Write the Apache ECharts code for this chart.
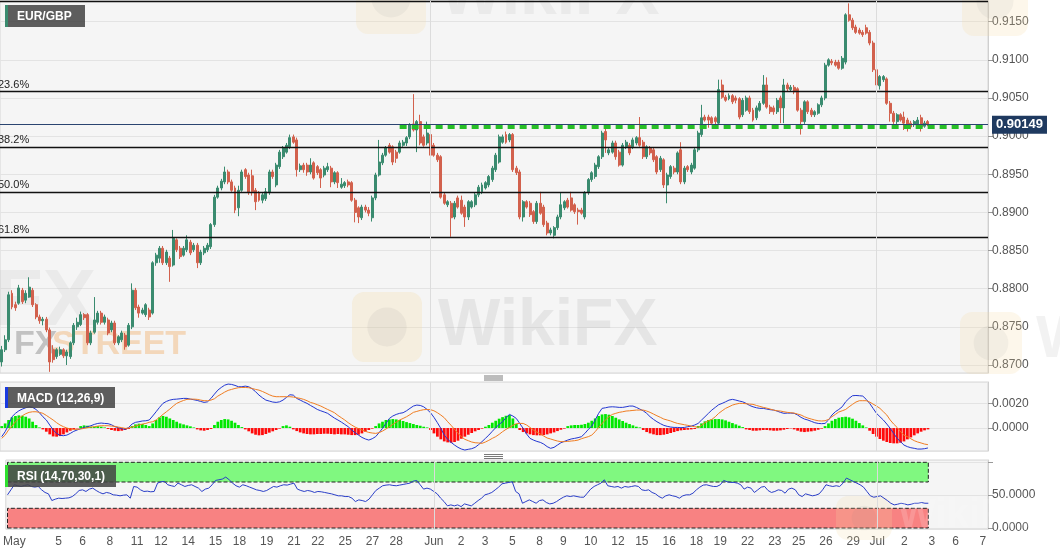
<!DOCTYPE html>
<html><head><meta charset="utf-8">
<script src="https://cdn.jsdelivr.net/npm/echarts@6/dist/echarts.min.js"></script>
<style>html,body{margin:0;padding:0;background:#fff;}#c{width:1060px;height:555px;}</style>
</head><body><div id="c"></div>
<script>
// ---------- DATA ----------
// 4-hour candles [open, close, low, high]
const candlesMay = [
[0.8704,0.8720,0.8698,0.8725],[0.8720,0.8733,0.8717,0.8739],[0.8733,0.8792,0.8730,0.8796],[0.8794,0.8776,0.8773,0.8798],[0.8779,0.8775,0.8771,0.8783],
[0.8781,0.8801,0.8779,0.8805],[0.8798,0.8783,0.8780,0.8801],[0.8785,0.8794,0.8781,0.8798],[0.8789,0.8802,0.8788,0.8815],[0.8798,0.8779,0.8776,0.8801],
[0.8779,0.8763,0.8760,0.8781],[0.8763,0.8758,0.8754,0.8766],[0.8758,0.8760,0.8752,0.8763],[0.8760,0.8746,0.8743,0.8763],[0.8746,0.8704,0.8691,0.8749],
[0.8720,0.8707,0.8703,0.8726],[0.8711,0.8720,0.8708,0.8722],[0.8714,0.8720,0.8712,0.8724],[0.8720,0.8712,0.8709,0.8722],[0.8712,0.8717,0.8700,0.8720],
[0.8711,0.8729,0.8708,0.8731],[0.8729,0.8752,0.8726,0.8755],[0.8750,0.8756,0.8746,0.8762],[0.8753,0.8766,0.8751,0.8770],[0.8766,0.8762,0.8759,0.8768],
[0.8766,0.8729,0.8726,0.8768],[0.8729,0.8742,0.8726,0.8745],[0.8743,0.8759,0.8741,0.8789],[0.8756,0.8768,0.8753,0.8771],[0.8768,0.8756,0.8753,0.8771],
[0.8756,0.8763,0.8753,0.8766],[0.8759,0.8742,0.8739,0.8762],[0.8746,0.8755,0.8743,0.8758],[0.8755,0.8729,0.8726,0.8758],[0.8729,0.8737,0.8726,0.8739],
[0.8733,0.8742,0.8730,0.8745],[0.8739,0.8724,0.8720,0.8742],[0.8726,0.8752,0.8724,0.8755],[0.8750,0.8798,0.8747,0.8807],[0.8798,0.8775,0.8772,0.8801],
[0.8776,0.8768,0.8762,0.8779],[0.8768,0.8772,0.8766,0.8775],[0.8766,0.8779,0.8763,0.8781],[0.8772,0.8763,0.8759,0.8775],[0.8768,0.8834,0.8766,0.8836],
[0.8834,0.8844,0.8830,0.8847],[0.8840,0.8853,0.8834,0.8856],[0.8853,0.8834,0.8831,0.8856],[0.8834,0.8848,0.8831,0.8851],[0.8840,0.8829,0.8809,0.8843],
[0.8831,0.8866,0.8829,0.8877],[0.8864,0.8851,0.8848,0.8866],[0.8853,0.8842,0.8839,0.8856],[0.8844,0.8853,0.8842,0.8856],[0.8851,0.8864,0.8848,0.8870],
[0.8861,0.8847,0.8844,0.8864],[0.8851,0.8857,0.8848,0.8860],[0.8857,0.8834,0.8827,0.8860],[0.8834,0.8848,0.8831,0.8851],[0.8847,0.8853,0.8844,0.8856],
[0.8851,0.8857,0.8848,0.8860],[0.8855,0.8884,0.8852,0.8886],[0.8884,0.8920,0.8881,0.8923],[0.8920,0.8932,0.8918,0.8935],[0.8932,0.8941,0.8929,0.8944],
[0.8940,0.8953,0.8937,0.8960],[0.8953,0.8940,0.8937,0.8956],[0.8940,0.8929,0.8927,0.8943],[0.8932,0.8903,0.8899,0.8935],[0.8906,0.8929,0.8895,0.8935],
[0.8929,0.8953,0.8927,0.8956],[0.8956,0.8947,0.8944,0.8958],[0.8949,0.8926,0.8923,0.8952],[0.8948,0.8927,0.8922,0.8956],[0.8929,0.8914,0.8903,0.8932],
[0.8926,0.8916,0.8914,0.8928],[0.8916,0.8923,0.8912,0.8926],[0.8918,0.8927,0.8915,0.8932],[0.8926,0.8953,0.8923,0.8956],[0.8953,0.8947,0.8944,0.8956],
[0.8936,0.8962,0.8933,0.8965],[0.8960,0.8979,0.8957,0.8982],[0.8973,0.8985,0.8970,0.8987],[0.8979,0.8988,0.8977,0.8991],[0.8986,0.8998,0.8983,0.9002],
[0.8999,0.8992,0.8990,0.9002],[0.8995,0.8956,0.8947,0.8998],[0.8956,0.8961,0.8953,0.8964],[0.8962,0.8956,0.8952,0.8965],[0.8962,0.8953,0.8948,0.8965],
[0.8953,0.8962,0.8950,0.8971],[0.8965,0.8945,0.8943,0.8967],[0.8960,0.8952,0.8949,0.8962],[0.8956,0.8945,0.8932,0.8958],[0.8949,0.8958,0.8946,0.8961],
[0.8956,0.8960,0.8953,0.8965],[0.8958,0.8940,0.8933,0.8961],[0.8940,0.8952,0.8937,0.8954],[0.8952,0.8939,0.8932,0.8954],[0.8933,0.8937,0.8931,0.8945],
[0.8935,0.8939,0.8932,0.8941],[0.8940,0.8936,0.8933,0.8943],[0.8939,0.8916,0.8914,0.8941],[0.8916,0.8900,0.8887,0.8919],[0.8906,0.8894,0.8886,0.8908],
[0.8893,0.8907,0.8890,0.8910],[0.8907,0.8903,0.8900,0.8910],[0.8903,0.8899,0.8895,0.8907],[0.8893,0.8919,0.8888,0.8922],[0.8919,0.8949,0.8916,0.8952],
[0.8949,0.8966,0.8947,0.8995],[0.8965,0.8975,0.8962,0.8978],[0.8975,0.8985,0.8973,0.8987],[0.8988,0.8979,0.8977,0.8991],[0.8986,0.8966,0.8962,0.8988],
[0.8979,0.8971,0.8965,0.8982],[0.8979,0.8991,0.8977,0.8994],[0.8988,0.8992,0.8986,0.8995],[0.8991,0.8998,0.8987,0.9000],[0.8999,0.9015,0.8996,0.9017],
[0.9016,0.9008,0.9006,0.9055],[0.9008,0.9019,0.8979,0.9021],[0.9019,0.8991,0.8988,0.9028],[0.8999,0.8988,0.8986,0.9002],[0.8991,0.9004,0.8988,0.9019]
];
const candlesJune = [
[0.9002,0.8975,0.8971,0.9004],[0.8988,0.8975,0.8973,0.8991],[0.8975,0.8969,0.8966,0.8978],[0.8973,0.8920,0.8918,0.8975],[0.8923,0.8912,0.8910,0.8926],
[0.8910,0.8914,0.8907,0.8916],[0.8912,0.8893,0.8868,0.8915],[0.8894,0.8912,0.8891,0.8915],[0.8919,0.8907,0.8905,0.8922],[0.8916,0.8899,0.8897,0.8922],
[0.8907,0.8894,0.8881,0.8910],[0.8894,0.8914,0.8890,0.8916],[0.8907,0.8914,0.8905,0.8916],[0.8910,0.8923,0.8907,0.8926],[0.8923,0.8933,0.8920,0.8936],
[0.8927,0.8936,0.8924,0.8939],[0.8932,0.8939,0.8930,0.8941],[0.8936,0.8947,0.8933,0.8949],[0.8943,0.8958,0.8940,0.8961],[0.8956,0.8975,0.8953,0.8978],
[0.8966,0.8999,0.8964,0.9002],[0.8992,0.8999,0.8990,0.9002],[0.9002,0.8992,0.8990,0.9006],[0.8995,0.9002,0.8992,0.9004],[0.9002,0.8956,0.8953,0.9004],
[0.8958,0.8952,0.8949,0.8961],[0.8953,0.8894,0.8891,0.8956],[0.8894,0.8914,0.8888,0.8916],[0.8914,0.8907,0.8905,0.8916],[0.8912,0.8897,0.8894,0.8915],
[0.8901,0.8888,0.8885,0.8903],[0.8888,0.8912,0.8885,0.8915],[0.8912,0.8899,0.8897,0.8927],[0.8907,0.8884,0.8881,0.8910],[0.8886,0.8873,0.8870,0.8889],
[0.8873,0.8877,0.8870,0.8880],[0.8870,0.8880,0.8866,0.8882],[0.8880,0.8894,0.8877,0.8897],[0.8894,0.8910,0.8891,0.8926],[0.8906,0.8914,0.8903,0.8916],
[0.8916,0.8907,0.8905,0.8919],[0.8919,0.8903,0.8901,0.8927],[0.8910,0.8901,0.8898,0.8912],[0.8903,0.8901,0.8884,0.8906],[0.8903,0.8899,0.8897,0.8906],
[0.8894,0.8926,0.8891,0.8928],[0.8926,0.8943,0.8923,0.8945],[0.8943,0.8952,0.8940,0.8954],[0.8947,0.8962,0.8944,0.8965],[0.8960,0.8973,0.8957,0.8975],
[0.8973,0.9004,0.8970,0.9007],[0.9006,0.8995,0.8978,0.9015],[0.8978,0.8982,0.8975,0.8985],[0.8979,0.8991,0.8977,0.8994],[0.8991,0.8973,0.8969,0.8994],
[0.8979,0.8962,0.8960,0.8982],[0.8962,0.8988,0.8960,0.8991],[0.8986,0.8992,0.8983,0.8995],[0.8988,0.8978,0.8975,0.8991],[0.8986,0.8995,0.8983,0.8998],
[0.8991,0.8998,0.8988,0.9000],[0.8998,0.8988,0.8986,0.9025],[0.8992,0.8973,0.8970,0.8995],[0.8973,0.8986,0.8970,0.8988],[0.8985,0.8978,0.8975,0.8987],
[0.8982,0.8969,0.8966,0.8985],[0.8973,0.8953,0.8950,0.8975],[0.8956,0.8971,0.8953,0.8974],[0.8969,0.8936,0.8932,0.8971],[0.8936,0.8949,0.8912,0.8952],
[0.8947,0.8960,0.8944,0.8962],[0.8958,0.8953,0.8950,0.8961],[0.8953,0.8978,0.8950,0.8980],[0.8982,0.8940,0.8937,0.8992],[0.8940,0.8958,0.8937,0.8961],
[0.8960,0.8956,0.8953,0.8962],[0.8953,0.8962,0.8950,0.8965],[0.8958,0.8982,0.8956,0.8985],[0.8982,0.9004,0.8979,0.9007],[0.9002,0.9024,0.8999,0.9041],
[0.9025,0.9021,0.9019,0.9028],[0.9025,0.9021,0.9011,0.9028],[0.9024,0.9017,0.9015,0.9026],[0.9024,0.9019,0.9011,0.9026],[0.9017,0.9061,0.9015,0.9074],
[0.9067,0.9051,0.9049,0.9074],[0.9051,0.9047,0.9045,0.9054],[0.9049,0.9053,0.9047,0.9056],[0.9053,0.9045,0.9042,0.9055],[0.9050,0.9047,0.9043,0.9053],
[0.9049,0.9025,0.9022,0.9051],[0.9028,0.9047,0.9025,0.9050],[0.9034,0.9050,0.9032,0.9053],[0.9050,0.9032,0.9029,0.9053],[0.9034,0.9021,0.9019,0.9037],
[0.9024,0.9037,0.9021,0.9040],[0.9034,0.9043,0.9032,0.9046],[0.9043,0.9067,0.9041,0.9080],[0.9067,0.9038,0.9036,0.9077],[0.9038,0.9032,0.9029,0.9041],
[0.9037,0.9032,0.9028,0.9040],[0.9032,0.9047,0.9029,0.9050],[0.9050,0.9037,0.9017,0.9053],[0.9037,0.9067,0.9017,0.9075],[0.9067,0.9062,0.9059,0.9070],
[0.9061,0.9064,0.9058,0.9067],[0.9064,0.9058,0.9055,0.9067],[0.9062,0.9034,0.9032,0.9064],[0.9034,0.9019,0.9002,0.9037],[0.9019,0.9045,0.9016,0.9047],
[0.9045,0.9032,0.9029,0.9047],[0.9034,0.9028,0.9025,0.9037],[0.9028,0.9032,0.9025,0.9034],[0.9030,0.9041,0.9028,0.9043],[0.9041,0.9050,0.9038,0.9053],
[0.9050,0.9093,0.9047,0.9096],[0.9093,0.9100,0.9091,0.9102],[0.9098,0.9096,0.9093,0.9101],[0.9097,0.9093,0.9091,0.9100],[0.9097,0.9089,0.9087,0.9100],
[0.9089,0.9102,0.9087,0.9105],[0.9097,0.9159,0.9094,0.9161],[0.9159,0.9152,0.9150,0.9174],[0.9152,0.9142,0.9139,0.9155],[0.9143,0.9136,0.9134,0.9146],
[0.9139,0.9135,0.9133,0.9142],[0.9136,0.9133,0.9130,0.9139],[0.9142,0.9135,0.9133,0.9146],[0.9136,0.9122,0.9119,0.9139],[0.9122,0.9087,0.9084,0.9125],
[0.9087,0.9067,0.9061,0.9089]
];
const candlesJuly = [
[0.9066,0.9078,0.9061,0.9080],[0.9074,0.9078,0.9071,0.9080],[0.9075,0.9043,0.9041,0.9077],[0.9043,0.9030,0.9019,0.9046],[0.9030,0.9019,0.9016,0.9033],
[0.9019,0.9028,0.9016,0.9030],[0.9028,0.9021,0.9019,0.9030],[0.9025,0.9017,0.9008,0.9032],[0.9021,0.9012,0.9006,0.9024],[0.9017,0.9012,0.9009,0.9020],
[0.9015,0.9019,0.9012,0.9021],[0.9016,0.9021,0.9013,0.9025],[0.9024,0.9012,0.9006,0.9028],[0.9013,0.9017,0.9011,0.9020],[0.9019,0.90149,0.9013,0.9021]
];
// MACD (12,26,9)
const macdLine = [
-0.00071,-0.00030,0.00025,0.00093,0.00121,0.00142,0.00156,0.00167,0.00175,0.00170,
0.00153,0.00126,0.00093,0.00066,0.00025,-0.00016,-0.00044,-0.00060,-0.00063,-0.00058,
-0.00044,-0.00027,-0.00016,-0.00005,0.00005,0.00011,0.00019,0.00030,0.00038,0.00041,
0.00038,0.00036,0.00027,0.00011,0.00003,-0.00005,-0.00011,0.00005,0.00033,0.00047,
0.00052,0.00058,0.00060,0.00066,0.00099,0.00134,0.00170,0.00203,0.00219,0.00230,
0.00236,0.00238,0.00241,0.00244,0.00244,0.00238,0.00233,0.00227,0.00219,0.00211,
0.00216,0.00244,0.00279,0.00312,0.00334,0.00353,0.00362,0.00359,0.00351,0.00340,
0.00340,0.00345,0.00340,0.00323,0.00299,0.00271,0.00249,0.00230,0.00222,0.00214,
0.00211,0.00216,0.00230,0.00252,0.00274,0.00271,0.00244,0.00230,0.00216,0.00203,
0.00186,0.00170,0.00153,0.00142,0.00132,0.00121,0.00101,0.00082,0.00066,0.00049,
0.00030,0.00011,-0.00016,-0.00038,-0.00058,-0.00077,-0.00090,-0.00099,-0.00088,-0.00071,
-0.00038,-0.00003,0.00038,0.00079,0.00099,0.00112,0.00121,0.00126,0.00142,0.00162,
0.00181,0.00189,0.00186,0.00175,0.00153,0.00126,0.00088,0.00044,-0.00003,-0.00058,
-0.00093,-0.00118,-0.00140,-0.00159,-0.00173,-0.00181,-0.00175,-0.00170,-0.00159,-0.00137,
-0.00112,-0.00085,-0.00058,-0.00027,0.00003,0.00030,0.00052,0.00085,0.00112,0.00099,
0.00079,0.00038,-0.00003,-0.00049,-0.00085,-0.00099,-0.00110,-0.00118,-0.00132,-0.00153,
-0.00167,-0.00159,-0.00140,-0.00121,-0.00110,-0.00099,-0.00090,-0.00085,-0.00079,-0.00071,
-0.00044,-0.00011,0.00016,0.00066,0.00121,0.00162,0.00167,0.00173,0.00175,0.00173,
0.00170,0.00170,0.00175,0.00181,0.00181,0.00170,0.00156,0.00142,0.00121,0.00093,
0.00071,0.00052,0.00036,0.00022,0.00014,0.00008,0.00005,0.00005,0.00003,0.00005,
0.00011,0.00016,0.00025,0.00038,0.00066,0.00093,0.00121,0.00148,0.00170,0.00192,
0.00203,0.00216,0.00230,0.00236,0.00230,0.00222,0.00216,0.00203,0.00186,0.00175,
0.00167,0.00162,0.00162,0.00156,0.00151,0.00148,0.00140,0.00129,0.00121,0.00123,
0.00123,0.00121,0.00107,0.00088,0.00074,0.00066,0.00055,0.00044,0.00038,0.00036,
0.00038,0.00066,0.00107,0.00134,0.00153,0.00175,0.00216,0.00244,0.00266,0.00268,
0.00266,0.00263,0.00236,0.00203,0.00162,0.00121,0.00093,0.00066,0.00033,-0.00003,
-0.00044,-0.00085,-0.00112,-0.00140,-0.00153,-0.00162,-0.00167,-0.00173,-0.00173,-0.00170,-0.00164
];
const signalLine = [
-0.00085,-0.00058,-0.00016,0.00016,0.00052,0.00079,0.00101,0.00118,0.00129,0.00134,
0.00134,0.00129,0.00121,0.00104,0.00085,0.00066,0.00044,0.00025,0.00011,0,
-0.00008,-0.00011,-0.00011,-0.00008,-0.00003,0.00003,0.00008,0.00011,0.00016,0.00019,
0.00019,0.00019,0.00016,0.00014,0.00008,0.00003,-0.00003,0,0.00008,0.00016,
0.00025,0.00033,0.00038,0.00047,0.00052,0.00066,0.00088,0.00112,0.00134,0.00156,
0.00181,0.00203,0.00216,0.00227,0.00236,0.00238,0.00238,0.00236,0.00230,0.00225,
0.00225,0.00230,0.00241,0.00263,0.00279,0.00296,0.00310,0.00318,0.00326,0.00332,
0.00334,0.00334,0.00332,0.00326,0.00318,0.00312,0.00301,0.00288,0.00274,0.00263,
0.00258,0.00258,0.00258,0.00258,0.00258,0.00255,0.00249,0.00244,0.00236,0.00225,
0.00211,0.00203,0.00192,0.00181,0.00167,0.00153,0.00140,0.00126,0.00104,0.00085,
0.00066,0.00044,0.00025,0.00008,-0.00005,-0.00016,-0.00027,-0.00036,-0.00041,-0.00044,
-0.00038,-0.00025,-0.00008,0.00011,0.00030,0.00049,0.00066,0.00079,0.00093,0.00110,
0.00129,0.00137,0.00145,0.00151,0.00153,0.00151,0.00142,0.00126,0.00107,0.00085,
0.00052,0.00022,-0.00011,-0.00044,-0.00071,-0.00093,-0.00104,-0.00115,-0.00121,-0.00123,
-0.00126,-0.00115,-0.00101,-0.00085,-0.00071,-0.00052,-0.00030,-0.00011,0.00005,0.00022,
0.00036,0.00038,0.00038,0.00025,0.00005,-0.00016,-0.00033,-0.00049,-0.00066,-0.00082,
-0.00090,-0.00099,-0.00107,-0.00112,-0.00112,-0.00110,-0.00107,-0.00104,-0.00099,-0.00088,
-0.00079,-0.00071,-0.00058,-0.00030,0.00005,0.00038,0.00066,0.00093,0.00112,0.00121,
0.00129,0.00134,0.00140,0.00142,0.00145,0.00148,0.00148,0.00148,0.00140,0.00129,
0.00115,0.00101,0.00088,0.00074,0.00066,0.00058,0.00047,0.00038,0.00033,0.00027,
0.00022,0.00016,0.00011,0.00005,0.00022,0.00044,0.00060,0.00071,0.00093,0.00121,
0.00142,0.00162,0.00175,0.00189,0.00197,0.00203,0.00203,0.00200,0.00197,0.00195,
0.00186,0.00178,0.00170,0.00164,0.00156,0.00148,0.00142,0.00140,0.00134,0.00129,
0.00126,0.00123,0.00115,0.00107,0.00093,0.00082,0.00074,0.00066,0.00060,0.00058,
0.00060,0.00071,0.00093,0.00112,0.00132,0.00142,0.00153,0.00175,0.00195,0.00214,
0.00225,0.00225,0.00225,0.00214,0.00197,0.00181,0.00162,0.00134,0.00107,0.00066,
0.00033,0.00005,-0.00030,-0.00058,-0.00071,-0.00088,-0.00104,-0.00115,-0.00123,-0.00132,-0.00137
];
const macdHist = [
0.00016,0.00038,0.00066,0.00088,0.00099,0.00104,0.00101,0.00093,0.00079,0.00052,0.00025,0.00005,
-0.00011,-0.00030,-0.00052,-0.00069,-0.00071,-0.00066,-0.00052,-0.00036,-0.00022,-0.00011,-0.00003,
0.00016,0.00022,0.00019,0.00011,0.00011,0.00016,0.00011,0.00005,
-0.00008,-0.00016,-0.00022,-0.00025,-0.00022,-0.00016,-0.00008,
0.00016,0.00030,0.00036,0.00033,0.00025,0.00016,
0.00038,0.00066,0.00088,0.00099,0.00093,0.00079,0.00066,0.00052,0.00038,0.00030,0.00022,0.00014,0.00005,
-0.00011,-0.00019,-0.00022,-0.00016,-0.00008,
0.00025,0.00052,0.00066,0.00074,0.00071,0.00060,0.00044,0.00025,0.00008,
-0.00011,-0.00027,-0.00044,-0.00055,-0.00060,-0.00058,-0.00049,-0.00038,-0.00027,-0.00016,-0.00005,
0.00016,0.00022,0.00011,
-0.00011,-0.00025,-0.00036,-0.00044,-0.00049,-0.00052,-0.00052,-0.00049,-0.00049,-0.00047,-0.00047,-0.00049,-0.00052,-0.00049,-0.00052,
-0.00052,-0.00055,-0.00058,-0.00058,-0.00055,-0.00044,-0.00030,-0.00016,-0.00005,
0.00016,0.00038,0.00052,0.00066,0.00071,0.00074,0.00071,0.00066,0.00058,0.00049,0.00041,0.00033,0.00025,0.00019,0.00011,0.00005,
-0.00016,-0.00044,-0.00071,-0.00093,-0.00110,-0.00118,-0.00121,-0.00115,-0.00104,-0.00088,-0.00071,-0.00055,-0.00041,-0.00027,-0.00016,-0.00005,
0.00011,0.00025,0.00044,0.00060,0.00077,0.00090,0.00101,0.00107,0.00079,0.00033,
-0.00016,-0.00033,-0.00044,-0.00052,-0.00058,-0.00060,-0.00060,-0.00058,-0.00052,-0.00044,-0.00036,-0.00025,-0.00014,-0.00005,
0.00016,0.00022,0.00025,0.00025,0.00027,0.00033,0.00044,0.00060,0.00079,0.00099,0.00112,0.00115,0.00110,0.00099,0.00085,0.00071,0.00058,0.00044,0.00033,0.00022,0.00011,0.00005,
-0.00016,-0.00033,-0.00044,-0.00052,-0.00058,-0.00058,-0.00055,-0.00049,-0.00041,-0.00033,-0.00025,-0.00019,-0.00016,-0.00014,-0.00011,-0.00008,
0.00016,0.00038,0.00055,0.00066,0.00071,0.00074,0.00074,0.00071,0.00063,0.00052,0.00041,0.00030,0.00019,0.00008,
-0.00011,-0.00016,-0.00022,-0.00022,-0.00019,-0.00016,-0.00016,-0.00019,-0.00022,-0.00022,-0.00019,-0.00014,-0.00008,-0.00003,
-0.00011,-0.00022,-0.00030,-0.00033,-0.00030,-0.00027,-0.00022,-0.00014,-0.00005,
0.00016,0.00038,0.00060,0.00074,0.00085,0.00090,0.00093,0.00088,0.00077,0.00060,0.00041,0.00022,0.00005,
-0.00022,-0.00049,-0.00071,-0.00090,-0.00104,-0.00115,-0.00123,-0.00126,-0.00126,-0.00121,-0.00110,-0.00093,-0.00077,-0.00060,-0.00044,-0.00030,-0.00019,-0.00011
];
// RSI (14,70,30,1)
const rsiLine = [
50.5,58.1,65.8,64.3,63.2,64.8,65.8,63.2,62.2,63.2,58.1,54.1,52.0,
41.8,43.9,45.4,44.9,45.4,45.9,47.9,52.0,
57.1,58.1,55.6,59.2,60.7,57.1,54.1,52.0,54.1,53.0,50.5,50.0,49.0,50.0,50.5,45.4,
63.2,62.2,58.1,55.6,56.1,55.1,55.6,
68.3,70.4,70.9,65.8,64.3,63.2,68.3,65.8,63.2,64.8,65.8,63.2,60.7,55.6,
59.2,60.7,65.8,72.4,73.4,74.5,77.5,
73.4,68.3,64.3,62.2,65.8,64.3,62.2,60.2,58.1,57.1,
55.6,57.1,60.2,63.2,62.2,64.3,65.8,65.3,66.8,68.3,
59.2,57.1,55.6,57.1,56.1,54.1,55.6,55.1,54.1,53.0,52.0,50.5,49.0,49.0,47.9,47.9,45.4,
40.3,42.8,41.8,40.3,43.9,50.5,57.1,60.7,64.3,65.3,65.8,64.8,64.3,65.3,66.3,67.3,68.3,
71.4,72.4,65.8,59.2,60.7,59.2,55.6,52.0,45.4,40.3,
33.7,35.2,33.7,35.2,32.6,36.7,35.2,33.7,37.7,41.8,45.4,50.5,
52.0,54.1,58.1,62.2,67.3,68.3,69.4,70.4,55.6,52.0,
37.7,40.3,42.8,40.3,37.7,41.8,42.8,38.8,36.7,37.7,
40.3,43.9,46.9,49.0,47.9,49.0,47.9,46.9,46.9,53.0,
59.2,63.2,65.8,68.3,73.4,64.3,63.2,62.2,63.2,60.7,
63.2,62.2,63.2,64.3,63.2,58.1,57.1,58.1,54.1,52.0,
47.9,45.4,49.0,50.5,49.0,47.9,45.4,49.0,50.5,50.5,53.0,58.1,
62.2,65.3,65.8,64.3,63.2,63.2,65.8,72.4,70.4,69.4,
69.4,68.3,65.8,59.2,62.2,60.7,54.1,58.1,62.2,63.2,
57.1,54.1,55.6,58.1,57.1,53.0,59.2,60.7,58.1,50.5,
47.9,52.0,50.5,49.0,50.0,52.0,58.1,65.8,
64.3,63.2,64.3,63.2,68.3,76.0,
73.4,70.9,68.3,65.8,62.2,55.6,49.0,46.9,
47.9,49.0,45.4,41.8,37.7,35.2,36.2,37.7,36.7,35.2,36.2,37.7,37.7,38.8,37.7,37.7
];
// x-axis tick labels and the 4h-slot they sit on
const tickLabels = ['May','5','6','8','11','12','14','15','18','19','21','22','25','27','28','Jun','2','3','5','8','9','10','12','15','16','18','19','22','23','25','26','29','Jul','2','3','6','7'];
const tickSlots  = [2,15,22,30,38,45,53,61,68,76,84,91,99,107,114,125,133,140,148,156,163,171,179,186,194,202,209,217,225,232,240,248,255,263,271,278,286];
const monthStartSlots = [125, 255];
const slotCount = 288;
const fibLevels = [0.9177, 0.9059, 0.8986, 0.8927, 0.8868];
const fibLabels = ['0.0%', '23.6%', '38.2%', '50.0%', '61.8%'];
const lastPrice = 0.90149;
const supportLevel = 0.9012;
const supportStartSlot = 116;
const rsiUpper = [70, 100];
const rsiLower = [0, 30];

// ---------- CHART ----------
const candles = candlesMay.concat(candlesJune, candlesJuly);
const lastIdx = candles.length - 1;
const slots = Array.from({length: slotCount}, (_, i) => String(i));
const tickMap = {};
tickSlots.forEach((s, k) => { tickMap[s] = tickLabels[k]; });

const FONT = 'Liberation Sans, Arial, sans-serif';
const UP = '#3a8b6f', DOWN = '#d2614d';
const gridStyle = {show: true, backgroundColor: '#f5f5f5', borderColor: '#d6d6d6', borderWidth: 1, left: 0, width: 988};

function xAxisFor(gi, showLabels) {
  return {
    type: 'category', gridIndex: gi, data: slots, boundaryGap: true,
    axisLine: {show: false}, axisTick: {show: false}, splitLine: {show: false},
    axisLabel: showLabels ? {
      show: true, interval: (i) => tickMap[i] !== undefined,
      formatter: (v, i) => tickMap[i] || '', color: '#555', fontSize: 12, margin: 7, fontFamily: FONT
    } : {show: false}
  };
}
function yAxisFor(gi, min, max, split, fmt) {
  return {
    type: 'value', gridIndex: gi, position: 'right', min: min, max: max, splitNumber: split, scale: true,
    axisLine: {show: true, lineStyle: {color: '#cfcfcf'}},
    axisTick: {show: true, length: 5, lineStyle: {color: '#999'}},
    axisLabel: {color: '#555', fontSize: 12, margin: 4, fontFamily: FONT, showMinLabel: false, showMaxLabel: false, formatter: fmt},
    splitLine: {show: true, lineStyle: {color: '#e3e3e3'}}
  };
}
const monthLines = () => ({
  symbol: ['none', 'none'], silent: true, animation: false, label: {show: false},
  lineStyle: {color: '#dcdcdc', width: 1, type: 'solid'},
  data: monthStartSlots.map(s => ({xAxis: s}))
});

const chart = echarts.init(document.getElementById('c'), null, {renderer: 'canvas'});
chart.setOption({
  animation: false,
  textStyle: {fontFamily: FONT},
  grid: [
    Object.assign({top: 1, height: 372}, gridStyle),
    Object.assign({top: 382, height: 69}, gridStyle),
    Object.assign({top: 460, height: 69}, gridStyle)
  ],
  xAxis: [xAxisFor(0, false), xAxisFor(1, false), xAxisFor(2, true)],
  yAxis: [
    yAxisFor(0, 0.86895, 0.91771, 10, v => v.toFixed(4)),
    yAxisFor(1, -0.00189, 0.00379, 3, v => v.toFixed(4)),
    yAxisFor(2, -1.5, 103.5, 2, v => (v > 99 ? '' : v.toFixed(4)))
  ],
  series: [
    {
      type: 'candlestick', xAxisIndex: 0, yAxisIndex: 0, data: candles, barWidth: '72%',
      itemStyle: {color: UP, color0: DOWN, borderColor: UP, borderColor0: DOWN, borderWidth: 1},
      markLine: {
        symbol: ['none', 'none'], silent: true, animation: false, precision: 5,
        data: [
          ...fibLevels.map(v => ({yAxis: v, label: {show: false}, lineStyle: {color: '#111', width: 1.3, type: 'solid'}})),
          ...monthStartSlots.map(s => ({xAxis: s, label: {show: false}, lineStyle: {color: '#dcdcdc', width: 1, type: 'solid'}})),
          [
            {xAxis: supportStartSlot, yAxis: supportLevel, label: {show: false}, lineStyle: {color: '#27bf27', width: 4, type: [7, 5]}},
            {xAxis: slotCount - 1, yAxis: supportLevel}
          ],
          {yAxis: lastPrice, lineStyle: {color: '#2a4470', width: 1, type: 'solid'},
           label: {show: true, position: 'end', formatter: lastPrice.toFixed(5), backgroundColor: '#1f3a60',
                   color: '#fff', fontWeight: 'bold', fontSize: 13, padding: [3, 4, 2, 4], distance: 4, fontFamily: FONT}}
        ]
      }
    },
    {
      type: 'bar', xAxisIndex: 1, yAxisIndex: 1, barWidth: '80%',
      data: macdHist.map(v => ({value: v, itemStyle: {color: v >= 0 ? '#00e800' : '#ff0a0a'}})),
      markLine: monthLines()
    },
    {type: 'line', xAxisIndex: 1, yAxisIndex: 1, data: macdLine, symbol: 'none', lineStyle: {color: '#2236d0', width: 1}, z: 3},
    {type: 'line', xAxisIndex: 1, yAxisIndex: 1, data: signalLine, symbol: 'none', lineStyle: {color: '#f07d22', width: 1}, z: 3},
    {
      type: 'line', xAxisIndex: 2, yAxisIndex: 2, data: rsiLine, symbol: 'none', lineStyle: {color: '#2a3ec8', width: 1}, z: 3,
      markArea: {
        silent: true,
        itemStyle: {borderColor: '#222', borderWidth: 1, borderType: 'dashed'},
        data: [
          [{xAxis: 0, yAxis: rsiUpper[0], itemStyle: {color: '#80f880'}}, {xAxis: lastIdx, yAxis: rsiUpper[1]}],
          [{xAxis: 0, yAxis: rsiLower[0], itemStyle: {color: '#f88282'}}, {xAxis: lastIdx, yAxis: rsiLower[1]}]
        ]
      },
      markLine: monthLines()
    }
  ]
});

// ---------- overlays (titles, fib labels, handles, watermarks) ----------
const g = [];
function titleBox(x, y, w, h, stripe, text) {
  g.push({type: 'rect', z: 20, shape: {x: x, y: y, width: w, height: h}, style: {fill: 'rgba(68,68,68,0.86)'}});
  g.push({type: 'rect', z: 21, shape: {x: x, y: y, width: 3, height: h}, style: {fill: stripe}});
  g.push({type: 'text', z: 21, x: x + 12, y: y + h / 2 + 1,
          style: {text: text, fill: '#fff', font: 'bold 12px ' + FONT, textAlign: 'left', textVerticalAlign: 'middle', align: 'left', verticalAlign: 'middle'}});
}
// faint watermarks
function logo(x, y, w, h, a) {
  g.push({type: 'rect', z: 1, shape: {x: x, y: y, width: w, height: h, r: 12}, style: {fill: 'rgba(244,220,165,' + a + ')'}});
  g.push({type: 'circle', z: 1, shape: {cx: x + w / 2, cy: y + h / 2, r: Math.min(w, h) * 0.28}, style: {fill: 'rgba(130,130,130,' + (a * 0.35) + ')'}});
}
logo(352, 292, 70, 70, 0.28);
g.push({type: 'text', z: 1, x: 438, y: 327, style: {text: 'WikiFX', fill: 'rgba(160,160,160,0.18)', font: 'bold 66px ' + FONT, textVerticalAlign: 'middle', verticalAlign: 'middle'}});
logo(356, -38, 70, 72, 0.22);
g.push({type: 'text', z: 1, x: 440, y: -4, style: {text: 'WikiFX', fill: 'rgba(160,160,160,0.12)', font: 'bold 66px ' + FONT, textVerticalAlign: 'middle', verticalAlign: 'middle'}});
logo(962, -34, 66, 70, 0.22);
logo(960, 312, 62, 62, 0.22);
g.push({type: 'text', z: 1, x: 1036, y: 340, style: {text: 'W', fill: 'rgba(160,160,160,0.14)', font: 'bold 60px ' + FONT, textVerticalAlign: 'middle', verticalAlign: 'middle'}});
logo(836, 496, 56, 44, 0.2);
g.push({type: 'text', z: 6, x: 898, y: 516, style: {text: 'WikiFX', fill: 'rgba(255,255,255,0.16)', font: 'bold 40px ' + FONT, textVerticalAlign: 'middle', verticalAlign: 'middle'}});
g.push({type: 'text', z: 1, x: -6, y: 303, style: {text: 'FX', fill: 'rgba(195,195,195,0.22)', font: 'bold 80px ' + FONT, textVerticalAlign: 'middle', verticalAlign: 'middle'}});
g.push({type: 'text', z: 1, x: 14, y: 345, style: {text: 'FX', fill: 'rgba(110,110,110,0.38)', font: 'bold 34px Liberation Sans Narrow, ' + FONT, textVerticalAlign: 'middle', verticalAlign: 'middle'}});
g.push({type: 'text', z: 1, x: 52, y: 345, style: {text: 'STREET', fill: 'rgba(240,165,90,0.38)', font: 'bold 34px Liberation Sans Narrow, ' + FONT, textVerticalAlign: 'middle', verticalAlign: 'middle'}});

titleBox(5, 5, 80, 22, '#3a8b6f', 'EUR/GBP');
titleBox(5, 387, 110, 21, '#1a3ae0', 'MACD (12,26,9)');
titleBox(5, 465, 111, 22, '#2ee02e', 'RSI (14,70,30,1)');

// fibonacci labels positioned through the price axis
fibLevels.forEach((v, k) => {
  const py = chart.convertToPixel({yAxisIndex: 0}, v);
  g.push({type: 'text', z: 15, x: -2, y: py - 1,
          style: {text: fibLabels[k], fill: '#222', font: '11px ' + FONT, textVerticalAlign: 'bottom', verticalAlign: 'bottom'}});
});
// panel resize handles
[376, 378, 380, 454.5, 456.5, 458.5].forEach(yy => {
  g.push({type: 'line', z: 20, shape: {x1: 484, y1: yy, x2: 503, y2: yy}, style: {stroke: '#7a7a7a', lineWidth: 1}});
});
chart.setOption({graphic: g});
</script>
</body></html>
